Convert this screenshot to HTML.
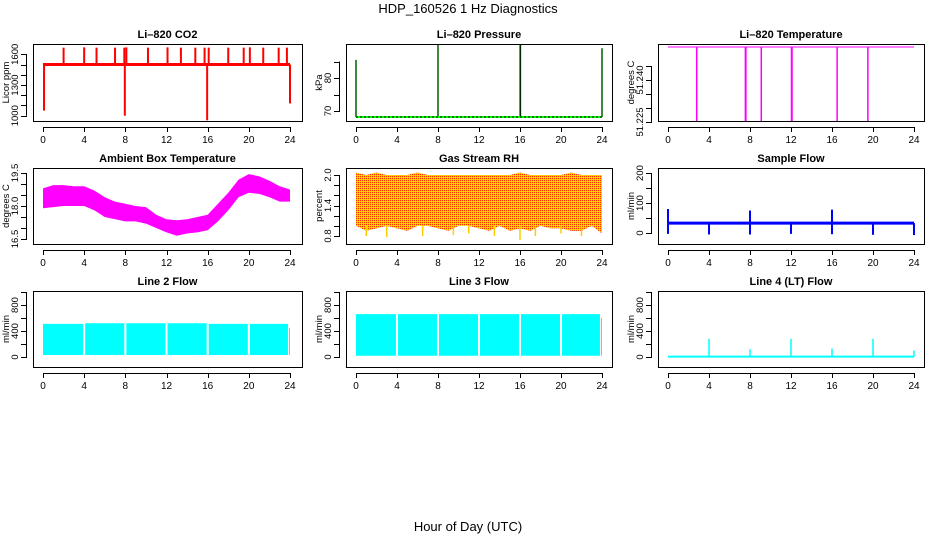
<!DOCTYPE html>
<html><head><meta charset="utf-8"><style>
body{margin:0;background:#fff;width:936px;height:540px;overflow:hidden}
svg{display:block;font-family:"Liberation Sans",sans-serif}
</style></head><body>
<svg id="c" width="936" height="540">
<defs><pattern id="rhpat" width="2" height="2" patternUnits="userSpaceOnUse"><rect width="2" height="2" fill="#ffc000"/><rect width="1" height="1" fill="#ff3000"/><rect x="1" y="1" width="1" height="1" fill="#ffe000"/></pattern></defs>
<text x="468" y="13" text-anchor="middle" font-size="13">HDP_160526  1 Hz Diagnostics</text>
<text x="468" y="531" text-anchor="middle" font-size="13">Hour of Day (UTC)</text>
</svg>
<script>
// ---- data ----
const xTicks=[0,4,8,12,16,20,24];
const co2Base=1500;
const co2SpikeHours=[2,4,5.2,7,7.9,8.1,10.2,12.1,13.4,14.8,15.7,16.1,18,19.5,20.1,21.4,22.9,23.7];
const co2SpikeVals=[1665,1668,1665,1665,1665,1668,1665,1668,1665,1665,1665,1665,1665,1665,1668,1665,1665,1665];
const co2DipHours=[0.1,7.95,15.95,24];
const co2DipVals=[1050,1000,955,1120];
const presBase=68.2;
const presSpikeHours=[0,8,16,16.05,24];
const presSpikeVals=[85.5,90,90,90,89];
const tempBase=51.2518;
const tempDropHours=[2.8,7.55,7.6,9.1,12.05,12.1,16.5,19.5];
const tempDropVals=[51.2235,51.2235,51.2235,51.2235,51.2235,51.2235,51.2235,51.2235];
const ambHours=[0,1,2,3,4,5,6,7,8,9,10,11,12,13,14,15,16,17,18,19,20,21,22,23,24];
const ambTop=[18.8,18.95,18.95,18.9,18.9,18.7,18.4,18.2,18.1,18.0,17.95,17.6,17.4,17.35,17.4,17.5,17.6,18.1,18.6,19.2,19.45,19.35,19.15,18.9,18.75];
const ambBot=[17.9,17.95,18.0,18.0,18.0,17.8,17.5,17.4,17.3,17.3,17.2,17.0,16.8,16.65,16.75,16.8,16.9,17.3,17.8,18.4,18.6,18.55,18.4,18.2,18.2];
const rhHours=[0,1,2,3,4,5,6,7,8,9,10,11,12,13,14,15,16,17,18,19,20,21,22,23,24];
const rhTop=[2.05,2.0,2.05,2.0,2.0,2.0,2.05,2.0,2.0,2.0,2.0,2.0,2.0,2.0,2.0,2.0,2.05,2.0,2.0,2.0,2.0,2.05,2.0,2.0,2.0];
const rhBot=[1.0,0.9,0.95,1.0,0.95,0.9,1.0,1.0,0.95,0.9,1.0,1.0,0.95,0.9,1.0,0.9,0.95,0.9,1.0,0.95,0.95,0.9,0.9,1.0,0.85];
const rhLowHours=[1,3,6.5,9.5,11,13.5,16,17.5,20,22];
const rhLowVals=[0.8,0.78,0.8,0.82,0.85,0.8,0.72,0.8,0.85,0.8];
const sfLow=28, sfHigh=38;
const sfSpikeHours=[0,8,16,0,4,8,12,16,20,24];
const sfSpikeVals=[80,75,78,-3,-5,-5,-3,-4,-6,-7];
const l2Start=[0,4.1,8.1,12.1,16.1,20.1,23.9];
const l2End=[3.9,7.9,11.9,15.9,19.9,23.8,24];
const l2Top=[510,520,520,520,510,510,450];
const l2Bot=[30,30,30,30,30,30,30];
const l3Start=[0,4.1,8.1,12.1,16.1,20.1,23.9];
const l3End=[3.9,7.9,11.9,15.9,19.9,23.8,24];
const l3Top=[660,660,660,660,660,660,600];
const l3Bot=[20,20,20,20,20,20,20];
const l4Base=5;
const l4SpikeHours=[4,8,12,16,20,24];
const l4SpikeVals=[280,120,280,130,280,100];

// ---- layout ----
const svg=document.getElementById('c');
const NS='http://www.w3.org/2000/svg';
function el(tag,attrs,parent){const e=document.createElementNS(NS,tag);for(const k in attrs)e.setAttribute(k,attrs[k]);(parent||svg).appendChild(e);return e;}
const cols=[{l:33,r:302,x0:43,x24:290,yl:9},{l:346,r:612,x0:356,x24:602,yl:322},{l:658,r:924,x0:668,x24:914,yl:634}];
const rows=[{t:44,b:121},{t:168,b:244},{t:291,b:367}];
function mkPanel(ci,ri,title,ylab,v1,p1,v2,p2,ticks,labels,name){
  const c=cols[ci],r=rows[ri];
  const g=el('g',{});
  
  
  const X=h=>c.x0+(c.x24-c.x0)*h/24;
  const Y=v=>p1+(p2-p1)*(v-v1)/(v2-v1);
  const clip=el('clipPath',{id:'cl'+name},g);
  el('rect',{x:c.l,y:r.t,width:c.r-c.l,height:r.b-r.t},clip);
  const data=el('g',{'clip-path':'url(#cl'+name+')'},g);
  
  
  const box=el('rect',{x:c.l+.5,y:r.t+.5,width:c.r-c.l,height:r.b-r.t,fill:'none',stroke:'#000'},g);
  
  
  const t=el('text',{x:(c.l+c.r)/2,y:r.t-6,'text-anchor':'middle','font-size':11,'font-weight':'bold'},g);
  t.textContent=title;
  
  
  const xa=el('g',{},g);
  
  
  el('line',{x1:X(0),x2:X(24),y1:r.b+6.5,y2:r.b+6.5,stroke:'#000'},xa);
  xTicks.forEach(h=>{el('line',{x1:Math.round(X(h))+.5,x2:Math.round(X(h))+.5,y1:r.b+6,y2:r.b+11,stroke:'#000'},xa);
    const tx=el('text',{x:X(h),y:r.b+22,'text-anchor':'middle','font-size':10},xa);tx.textContent=h;});
  const ya=el('g',{},g);
  
  
  const tl=ticks.filter(v=>Y(v)>=r.t-6&&Y(v)<=r.b+6);
  el('line',{x1:c.l-6.5,x2:c.l-6.5,y1:Y(tl[0]),y2:Y(tl[tl.length-1]),stroke:'#000'},ya);
  tl.forEach(v=>el('line',{x1:c.l-12,x2:c.l-6,y1:Math.round(Y(v))+.5,y2:Math.round(Y(v))+.5,stroke:'#000'},ya));
  labels.forEach(v=>{const y=Y(+v);const tx=el('text',{x:c.l-15,y:y,'text-anchor':'middle','font-size':9.5,transform:`rotate(-90 ${c.l-15} ${y})`},ya);tx.textContent=String(v);});
  const yt=el('text',{x:c.yl,y:(r.t+r.b)/2,'text-anchor':'middle','font-size':9.5,transform:`rotate(-90 ${c.yl} ${(r.t+r.b)/2})`},g);
  yt.textContent=ylab;
  
  
  return {X,Y,g:data};
}
function vline(p,h,a,b,col,w){el('line',{x1:p.X(h),x2:p.X(h),y1:p.Y(a),y2:p.Y(b),stroke:col,'stroke-width':w||1.5},p.g);}
function hline(p,a,b,v,col,w,dash){const o={x1:p.X(a),x2:p.X(b),y1:p.Y(v),y2:p.Y(v),stroke:col,'stroke-width':w||1};if(dash)o['stroke-dasharray']=dash;el('line',o,p.g);}
function band(p,hs,top,bot,fill){let pts=hs.map((h,i)=>p.X(h)+','+p.Y(top[i]));for(let i=hs.length-1;i>=0;i--)pts.push(p.X(hs[i])+','+p.Y(bot[i]));el('polygon',{points:pts.join(' '),fill:fill},p.g);}

// 1 CO2
let p=mkPanel(0,0,'Li\u2013820 CO2','Licor ppm',1600,54.3,1000,115.7,[1000,1100,1200,1300,1400,1500,1600],['1000','1300','1600'],'co2');
co2SpikeHours.forEach((h,i)=>vline(p,h,co2Base,co2SpikeVals[i],'#f00',2));
co2DipHours.forEach((h,i)=>vline(p,h,co2Base,co2DipVals[i],'#f00',2));
hline(p,0,24,co2Base,'#f00',3);
// 2 Pressure
p=mkPanel(1,0,'Li\u2013820 Pressure','kPa',70,111,80,78,[70,75,80,85],['70','80'],'pressure');
presSpikeHours.forEach((h,i)=>{vline(p,h,presBase,presSpikeVals[i],'#0c0',1.5);vline(p,h,presBase,presSpikeVals[i],'#000',0.8);});
hline(p,0,24,presBase,'#0f0',2);hline(p,0,24,presBase,'#000',1,'2,2');
// 3 Temperature
p=mkPanel(2,0,'Li\u2013820 Temperature','degrees C',51.225,122,51.240,80,[51.225,51.230,51.235,51.240,51.245],['51.225','51.240'],'li820-temp');
tempDropHours.forEach((h,i)=>vline(p,h,tempBase,tempDropVals[i],'#f0f',1.5));
hline(p,0,24,tempBase,'#f0f',1);
// 4 Ambient
p=mkPanel(0,1,'Ambient Box Temperature','degrees C',19.5,173,16.5,239,[16.5,17,17.5,18,18.5,19,19.5],['16.5','18.0','19.5'],'ambient-temp');
band(p,ambHours,ambTop,ambBot,'#f0f');
// 5 RH
p=mkPanel(1,1,'Gas Stream RH','percent',2.0,175,0.8,236,[0.8,1.0,1.2,1.4,1.6,1.8,2.0],['0.8','1.4','2.0'],'gas-rh');
band(p,rhHours,rhTop,rhBot,'url(#rhpat)');
rhLowHours.forEach((h,i)=>vline(p,h,1.0,rhLowVals[i],'#fc0',1.5));
// 6 Sample flow
p=mkPanel(2,1,'Sample Flow','ml/min',0,233,100,203,[0,50,100,150,200],['0','100','200'],'sample-flow');
band(p,[0,24],[sfHigh,sfHigh],[sfLow,sfLow],'#00f');
sfSpikeHours.forEach((h,i)=>vline(p,h,33,sfSpikeVals[i],'#00f',2));
// 7 Line 2
p=mkPanel(0,2,'Line 2 Flow','ml/min',0,357,400,331,[0,200,400,600,800,1000],['0','400','800'],'line2-flow');
l2Start.forEach((s,i)=>band(p,[s,l2End[i]],[l2Top[i],l2Top[i]],[l2Bot[i],l2Bot[i]],'#0ff'));
// 8 Line 3
p=mkPanel(1,2,'Line 3 Flow','ml/min',0,357,400,331,[0,200,400,600,800,1000],['0','400','800'],'line3-flow');
l3Start.forEach((s,i)=>band(p,[s,l3End[i]],[l3Top[i],l3Top[i]],[l3Bot[i],l3Bot[i]],'#0ff'));
// 9 Line 4
p=mkPanel(2,2,'Line 4 (LT) Flow','ml/min',0,357,400,331,[0,200,400,600,800,1000],['0','400','800'],'line4-flow');
hline(p,0,24,l4Base,'#0ff',2);
l4SpikeHours.forEach((h,i)=>vline(p,h,l4Base,l4SpikeVals[i],'#0ff',1.5));
</script>
</body></html>
